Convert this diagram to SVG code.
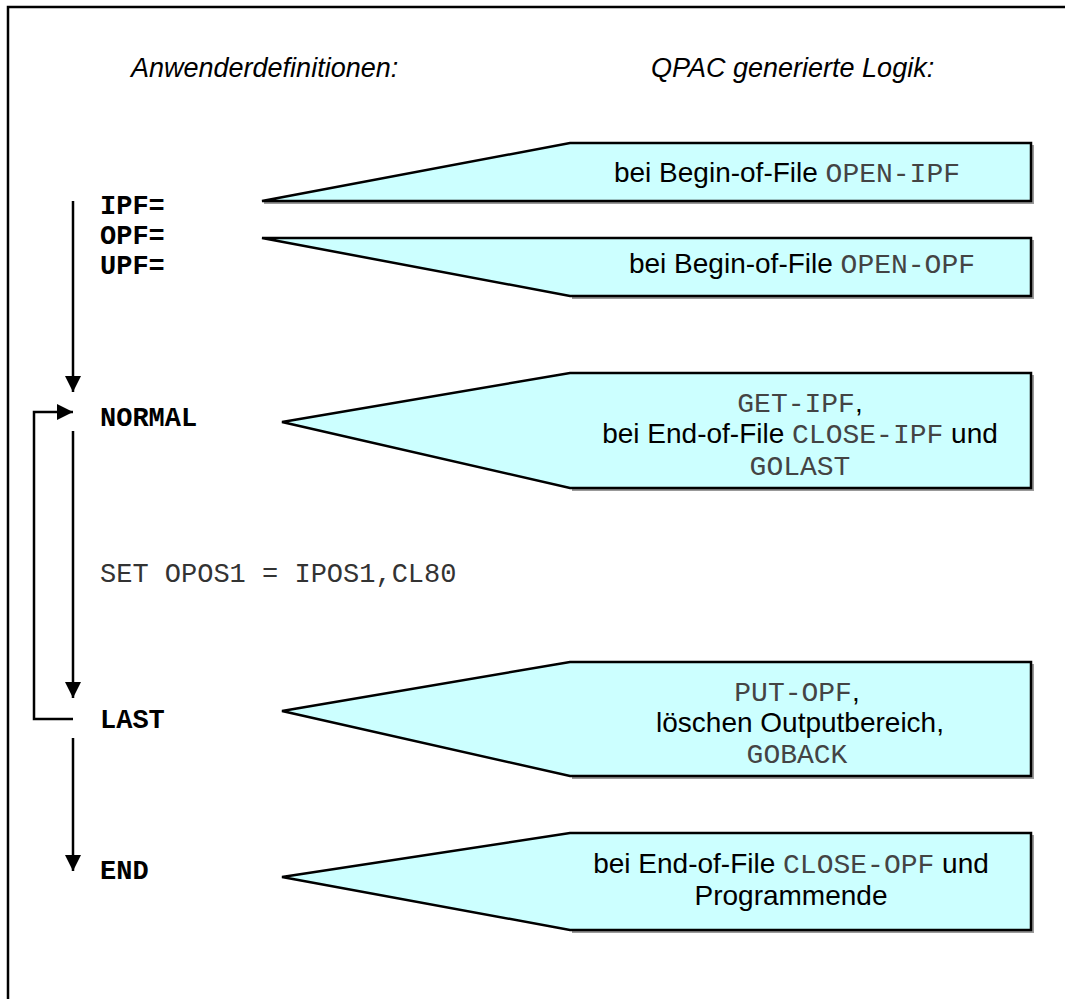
<svg xmlns="http://www.w3.org/2000/svg" width="1065" height="999" viewBox="0 0 1065 999">
<style>
.title{font-family:"Liberation Sans",Arial,sans-serif;font-style:italic;font-size:27px;fill:#000}
.lbl{font-family:"Liberation Mono","Courier New",monospace;font-weight:bold;font-size:27px;fill:#000}
.code{font-family:"Liberation Mono","Courier New",monospace;font-size:27px;fill:#333}
.txt{font-family:"Liberation Sans",Arial,sans-serif;font-size:28px;fill:#000;text-anchor:middle}
.mono{font-family:"Liberation Mono","Courier New",monospace;fill:#444}
.shape{fill:#ccffff;stroke:#000;stroke-width:2.5;stroke-linejoin:miter}
.shadow{fill:none;stroke:#999;stroke-width:2}
.conn{fill:none;stroke:#000;stroke-width:2.5}
</style>
<defs>
<marker id="ah" markerWidth="16" markerHeight="16" refX="16" refY="8" orient="auto" markerUnits="userSpaceOnUse">
<path d="M0,0 L16,8 L0,16 Z" fill="#000"/>
</marker>
</defs>
<path d="M8,999 V7 H1065" fill="none" stroke="#000" stroke-width="2.5"/>
<text class="title" x="131" y="77">Anwenderdefinitionen:</text>
<text class="title" x="651" y="77">QPAC generierte Logik:</text>

<g id="connectors">
<line class="conn" x1="73" y1="201" x2="73" y2="392" marker-end="url(#ah)"/>
<polyline class="conn" points="73,719 34,719 34,412 73,412" marker-end="url(#ah)"/>
<line class="conn" x1="73" y1="431" x2="73" y2="698" marker-end="url(#ah)"/>
<line class="conn" x1="73" y1="738" x2="73" y2="871" marker-end="url(#ah)"/>
</g>

<g id="labels">
<text class="lbl" x="100" y="214">IPF=</text>
<text class="lbl" x="100" y="244">OPF=</text>
<text class="lbl" x="100" y="274">UPF=</text>
<text class="lbl" x="100" y="426">NORMAL</text>
<text class="code" x="100" y="582">SET OPOS1 = IPOS1,CL80</text>
<text class="lbl" x="100" y="728">LAST</text>
<text class="lbl" x="100" y="879">END</text>
</g>

<g id="node-open-ipf">
<polyline class="shadow" points="264,203 1033,203 1033,145"/>
<polygon class="shape" points="262,201 570,143 1031,143 1031,201"/>
<text class="txt" x="787" y="182">bei Begin-of-File <tspan class="mono">OPEN-IPF</tspan></text>
</g>

<g id="node-open-opf">
<polyline class="shadow" points="572,298 1033,298 1033,240"/>
<polygon class="shape" points="262,238 1031,238 1031,296 570,296"/>
<text class="txt" x="802" y="273">bei Begin-of-File <tspan class="mono">OPEN-OPF</tspan></text>
</g>

<g id="node-normal">
<polyline class="shadow" points="572,490 1033,490 1033,375"/>
<polygon class="shape" points="282,422 570,373 1031,373 1031,488 570,488"/>
<text class="txt" x="800" y="412"><tspan class="mono">GET-IPF</tspan>,</text>
<text class="txt" x="800" y="443">bei End-of-File <tspan class="mono">CLOSE-IPF</tspan> und</text>
<text class="txt" x="800" y="475"><tspan class="mono">GOLAST</tspan></text>
</g>

<g id="node-last">
<polyline class="shadow" points="572,778 1033,778 1033,664"/>
<polygon class="shape" points="282,711 570,662 1031,662 1031,776 570,776"/>
<text class="txt" x="797" y="701"><tspan class="mono">PUT-OPF</tspan>,</text>
<text class="txt" x="800" y="732">löschen Outputbereich,</text>
<text class="txt" x="797" y="763"><tspan class="mono">GOBACK</tspan></text>
</g>

<g id="node-end">
<polyline class="shadow" points="572,932 1033,932 1033,835"/>
<polygon class="shape" points="282,877 570,833 1031,833 1031,930 570,930"/>
<text class="txt" x="791" y="873">bei End-of-File <tspan class="mono">CLOSE-OPF</tspan> und</text>
<text class="txt" x="791" y="905">Programmende</text>
</g>
</svg>
